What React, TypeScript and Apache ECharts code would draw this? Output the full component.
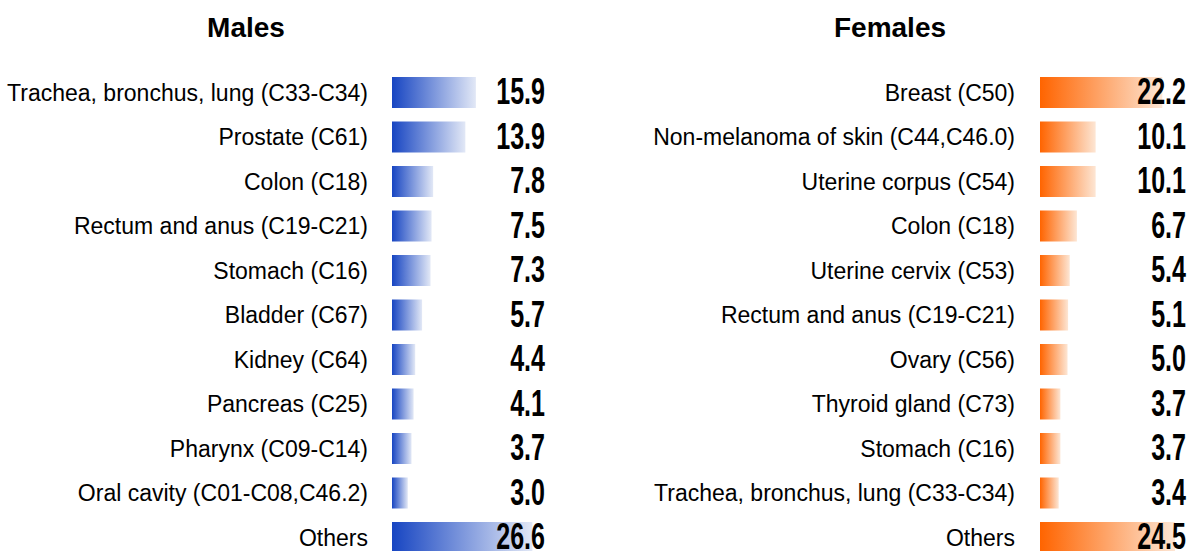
import React, { useEffect, useRef } from "react";
import * as echarts from "echarts";

const maleCategories = [
  "Trachea, bronchus, lung (C33-C34)",
  "Prostate (C61)",
  "Colon (C18)",
  "Rectum and anus (C19-C21)",
  "Stomach (C16)",
  "Bladder (C67)",
  "Kidney (C64)",
  "Pancreas (C25)",
  "Pharynx (C09-C14)",
  "Oral cavity (C01-C08,C46.2)",
  "Others",
];
const maleValues = [15.9, 13.9, 7.8, 7.5, 7.3, 5.7, 4.4, 4.1, 3.7, 3.0, 26.6];

const femaleCategories = [
  "Breast (C50)",
  "Non-melanoma of skin (C44,C46.0)",
  "Uterine corpus (C54)",
  "Colon (C18)",
  "Uterine cervix (C53)",
  "Rectum and anus (C19-C21)",
  "Ovary (C56)",
  "Thyroid gland (C73)",
  "Stomach (C16)",
  "Trachea, bronchus, lung (C33-C34)",
  "Others",
];
const femaleValues = [22.2, 10.1, 10.1, 6.7, 5.4, 5.1, 5.0, 3.7, 3.7, 3.4, 24.5];

const titles = ["Males", "Females"];

const FONT = "'Liberation Sans', Arial, sans-serif";

export default function App() {
  const ref = useRef<HTMLDivElement>(null);
  useEffect(() => {
    if (!ref.current) return;
    const chart = echarts.init(ref.current, null, { renderer: "svg" });
    const blue = new echarts.graphic.LinearGradient(0, 0, 1, 0, [
      { offset: 0, color: "#1745c2" },
      { offset: 1, color: "#e2e8f6" },
    ]);
    const orange = new echarts.graphic.LinearGradient(0, 0, 1, 0, [
      { offset: 0, color: "#ff6400" },
      { offset: 1, color: "#fde6d4" },
    ]);
    const top = 70.25;
    const height = 489.5;
    const grids = [
      { left: 392, right: 646, top, height, outerBoundsMode: "none", containLabel: false },
      { left: 1040, right: 5, top, height, outerBoundsMode: "none", containLabel: false },
    ];
    const rightEdges = [545, 1186];
    const cats = [maleCategories, femaleCategories];
    const vals = [maleValues, femaleValues];
    const maxes = [29, 26.5];
    const leftMargins = [24, 25];
    const option: any = {
      animation: false,
      backgroundColor: "#ffffff",
      title: [
        {
          text: titles[0],
          left: 241,
          top: 8,
          textAlign: "center",
          textStyle: { fontFamily: FONT, fontWeight: "bold", fontSize: 28, color: "#000" },
        },
        {
          text: titles[1],
          left: 885,
          top: 8,
          textAlign: "center",
          textStyle: { fontFamily: FONT, fontWeight: "bold", fontSize: 28, color: "#000" },
        },
      ],
      grid: grids,
      xAxis: [0, 1].map((i) => ({
        type: "value",
        gridIndex: i,
        min: 0,
        max: maxes[i],
        show: false,
      })),
      yAxis: [0, 1].map((i) => ({
        type: "category",
        gridIndex: i,
        data: cats[i],
        inverse: true,
        position: "left",
        axisLine: { show: false },
        axisTick: { show: false },
        splitLine: { show: false },
        axisLabel: {
          margin: leftMargins[i],
          fontFamily: FONT,
          fontSize: 23,
          color: "#000",
        },
      })),
      series: [0, 1].map((i) => ({
        type: "bar",
        xAxisIndex: i,
        yAxisIndex: i,
        data: vals[i],
        barWidth: 31,
        itemStyle: { color: i === 0 ? blue : orange },
        silent: true,
      })),
    };
    chart.setOption(option);

    const graphic: any[] = [];
    [0, 1].forEach((i) => {
      vals[i].forEach((v, k) => {
        const py = chart.convertToPixel({ yAxisIndex: i } as any, k) as unknown as number;
        graphic.push({
          type: "text",
          x: rightEdges[i],
          y: py - 1,
          scaleX: 0.76,
          scaleY: 1.12,
          z: 100,
          silent: true,
          style: {
            text: v.toFixed(1),
            fill: "#000",
            font: `bold 33px ${FONT}`,
            lineHeight: 25,
            textAlign: "right",
            textVerticalAlign: "middle",
          },
        });
      });
    });
    chart.setOption({ graphic });
    return () => chart.dispose();
  }, []);
  return (
    <div
      ref={ref}
      style={{ position: "fixed", left: 0, top: 0, width: 1191, height: 551, background: "#fff" }}
    />
  );
}
